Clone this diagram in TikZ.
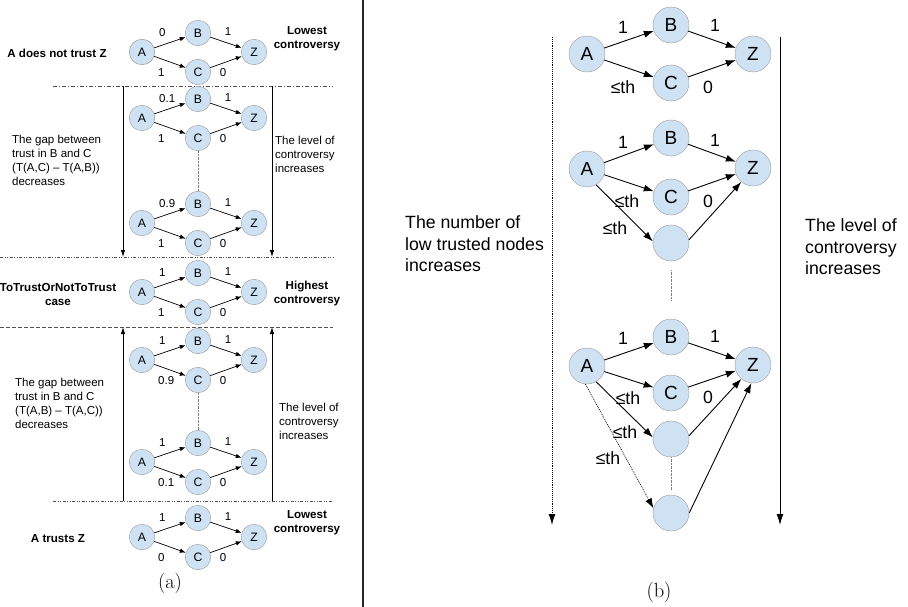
\documentclass[tikz,border=0pt]{standalone}
\usepackage{fontspec}
\newfontfamily\sansfam{Liberation Sans}
\usetikzlibrary{arrows.meta}
\definecolor{nodefill}{HTML}{CFE2F3}
\definecolor{nodeline}{HTML}{9A9A9A}
\definecolor{sepgray}{HTML}{505050}

% one small trust graph of panel (a): prefix, y of A, A->B, A->C, C->Z labels
\newcommand{\trustgraph}[5]{%
  \node[lnode] (#1A) at (142,#2) {A};
  \node[lnode] (#1B) at (198,#2-19) {B};
  \node[lnode] (#1C) at (198,#2+20) {C};
  \node[lnode] (#1Z) at (254,#2) {Z};
  \draw[larr] (#1A) -- (#1B);
  \draw[larr] (#1A) -- (#1C);
  \draw[larr] (#1B) -- (#1Z);
  \draw[larr] (#1C) -- (#1Z);
  \node[lbl, anchor=west] (#1ab) at (159,#2-19) {#3};
  \node[lbl, anchor=west] (#1ac) at (158,#2+21) {#4};
  \node[lbl] (#1bz) at (228,#2-20) {1};
  \node[lbl] (#1cz) at (223,#2+21) {#5};
}

\begin{document}
\begin{tikzpicture}[x=1pt,y=-1pt,
  lfont/.style={font=\sansfam\fontsize{11.5}{14}\selectfont},
  lbold/.style={font=\sansfam\bfseries\fontsize{11.6}{14}\selectfont, align=center, inner sep=0pt},
  rfont/.style={font=\sansfam\fontsize{17.7}{21.5}\selectfont},
  lbl/.style={lfont, inner sep=0pt},
  rlbl/.style={rfont, inner sep=0pt},
  lnode/.style={circle, draw=nodeline, fill=nodefill, minimum size=25.5pt, inner sep=0pt,
    font=\sansfam\fontsize{12.2}{14}\selectfont},
  rnode/.style={circle, draw=nodeline, fill=nodefill, minimum size=36pt, inner sep=0pt,
    font=\sansfam\fontsize{19}{22}\selectfont},
  larr/.style={-{Latex[length=6pt,width=4.5pt]}, line width=0.7pt},
  rarr/.style={-{Latex[length=10pt,width=7pt]}, line width=0.9pt},
  trend/.style={-{Latex[length=7pt,width=4.5pt]}, line width=0.8pt},
  bigtrend/.style={-{Latex[length=11pt,width=7pt]}, line width=0.9pt},
  sepline/.style={draw=sepgray, line width=0.6pt},
  lcaption/.style={lfont, align=left, anchor=west, inner sep=0pt},
  rcaption/.style={rfont, align=left, anchor=west, inner sep=0pt},
  subcap/.style={font=\fontsize{20.5}{22}\selectfont, inner sep=0pt}
]
\useasboundingbox (0,0) rectangle (908,607);

% panel divider
\coordinate (divTop) at (363,0);
\coordinate (divBot) at (363,607);
\draw[line width=1.1pt, black!85] (divTop) -- (divBot);

% ---------------- panel (a) ----------------
% horizontal separators
\coordinate (s1l) at (53,86);  \coordinate (s1r) at (333,86);
\coordinate (s2l) at (0,257);  \coordinate (s2r) at (333,257);
\coordinate (s3l) at (0,327);  \coordinate (s3r) at (333,327);
\coordinate (s4l) at (53,501); \coordinate (s4r) at (333,501);
\draw[sepline, dash pattern=on 4pt off 2pt on 1pt off 2pt] (s1l) -- (s1r);
\draw[sepline, dash pattern=on 3pt off 1.5pt on 1pt off 1.5pt on 1pt off 1.5pt] (s2l) -- (s2r);
\draw[sepline, dash pattern=on 4pt off 2pt] (s3l) -- (s3r);
\draw[sepline, dash pattern=on 3pt off 1.5pt on 1pt off 1.5pt on 1pt off 1.5pt] (s4l) -- (s4r);

% trend arrows
\coordinate (t1lt) at (123,86);  \coordinate (t1lb) at (123,257);
\coordinate (t1rt) at (272,86);  \coordinate (t1rb) at (272,257);
\coordinate (t2lt) at (123,327); \coordinate (t2lb) at (123,501);
\coordinate (t2rt) at (272,327); \coordinate (t2rb) at (272,501);
\draw[trend] (t1lt) -- (t1lb);
\draw[trend] (t1rt) -- (t1rb);
\draw[trend] (t2lb) -- (t2lt);
\draw[trend] (t2rb) -- (t2rt);

% graphs
\trustgraph{g1}{52}{0}{1}{0}
\trustgraph{g2}{118}{0.1}{1}{0}
\trustgraph{g3}{223}{0.9}{1}{0}
\trustgraph{g4}{292}{1}{1}{0}
\trustgraph{g5}{360}{1}{0.9}{0}
\trustgraph{g6}{462}{1}{0.1}{0}
\trustgraph{g7}{537}{1}{0}{0}
\draw[nodeline, densely dotted] (g1A) circle (12.75pt);
\draw[densely dotted, gray] (g2C) -- (g3B);
\draw[densely dotted, gray] (g5C) -- (g6B);

% side texts of panel (a)
\node[lbold] (notrust) at (57,53) {A does not trust Z};
\node[lbold] (low1) at (307,39) {Lowest\\controversy};
\node[lbold] (tocase) at (58,295) {ToTrustOrNotToTrust\\case};
\node[lbold] (high) at (307,294) {Highest\\controversy};
\node[lbold] (trusts) at (58,539) {A trusts Z};
\node[lbold] (low2) at (307,523) {Lowest\\controversy};
\node[lcaption] (gap1) at (12,160) {The gap between\\trust in B and C\\(T(A,C) – T(A,B))\\decreases};
\node[lcaption] (lev1) at (275,154) {The level of\\controversy\\increases};
\node[lcaption] (gap2) at (15,403) {The gap between\\trust in B and C\\(T(A,B) – T(A,C))\\decreases};
\node[lcaption] (lev2) at (279,421) {The level of\\controversy\\increases};
\node[subcap] (capa) at (170,583) {(a)};

% ---------------- panel (b) ----------------
\coordinate (numTop) at (552,37); \coordinate (numBot) at (552,525);
\coordinate (levTop) at (780,37); \coordinate (levBot) at (780,525);
\draw[bigtrend, densely dotted] (numTop) -- (numBot);
\draw[bigtrend] (levTop) -- (levBot);
\node[rcaption] (numtxt) at (405,244) {The number of\\low trusted nodes\\increases};
\node[rcaption] (levtxt) at (805,247) {The level of\\controversy\\increases};

% first graph
\node[rnode] (r1A) at (587,54) {A};
\node[rnode] (r1B) at (671,25) {B};
\node[rnode] (r1C) at (671,83) {C};
\node[rnode] (r1Z) at (753,54) {Z};
\draw[rarr] (r1A) -- (r1B);
\draw[rarr] (r1A) -- (r1C);
\draw[rarr] (r1B) -- (r1Z);
\draw[rarr] (r1C) -- (r1Z);
\node[rlbl] (r1ab) at (623,27) {1};
\node[rlbl] (r1bz) at (715,25) {1};
\node[rlbl] (r1ac) at (623,87) {≤th};
\node[rlbl] (r1cz) at (708,87) {0};

% second graph
\node[rnode] (r2A) at (587,169) {A};
\node[rnode] (r2B) at (671,138) {B};
\node[rnode] (r2C) at (671,197) {C};
\node[rnode] (r2Z) at (753,168) {Z};
\node[rnode] (r2D) at (671,243) {};
\draw[rarr] (r2A) -- (r2B);
\draw[rarr] (r2A) -- (r2C);
\draw[rarr] (r2A.-60) -- (r2D.175);
\draw[rarr] (r2B) -- (r2Z);
\draw[rarr] (r2C) -- (r2Z);
\draw[rarr] (r2D.10) -- (r2Z.-130);
\node[rlbl] (r2ab) at (623,142) {1};
\node[rlbl] (r2bz) at (715,140) {1};
\node[rlbl] (r2ac) at (627,201) {≤th};
\node[rlbl] (r2cz) at (708,201) {0};
\node[rlbl] (r2ad) at (615,228) {≤th};
\coordinate (r2more) at (671,300);
\draw[densely dotted, gray, shorten <=9pt] (r2D.south) -- (r2more);

% third graph
\node[rnode] (r3A) at (587,366) {A};
\node[rnode] (r3B) at (671,337) {B};
\node[rnode] (r3C) at (671,393) {C};
\node[rnode] (r3Z) at (753,365) {Z};
\node[rnode] (r3D) at (671,439) {};
\node[rnode] (r3E) at (671,513) {};
\draw[rarr] (r3A) -- (r3B);
\draw[rarr] (r3A) -- (r3C);
\draw[rarr] (r3A.-60) -- (r3D.175);
\draw[rarr, densely dotted, line width=0.7pt] (r3A.-95) -- (r3E.165);
\draw[rarr] (r3B) -- (r3Z);
\draw[rarr] (r3C) -- (r3Z);
\draw[rarr] (r3D.10) -- (r3Z.-130);
\draw[rarr] (r3E.east) -- (r3Z.-95);
\draw[densely dotted, gray, shorten >=5pt] (r3D) -- (r3E);
\node[rlbl] (r3ab) at (623,338) {1};
\node[rlbl] (r3bz) at (715,336) {1};
\node[rlbl] (r3ac) at (628,398) {≤th};
\node[rlbl] (r3cz) at (708,397) {0};
\node[rlbl] (r3ad) at (625,432) {≤th};
\node[rlbl] (r3ae) at (608,458) {≤th};

\node[subcap] (capb) at (659,592) {(b)};
\end{tikzpicture}
\end{document}
